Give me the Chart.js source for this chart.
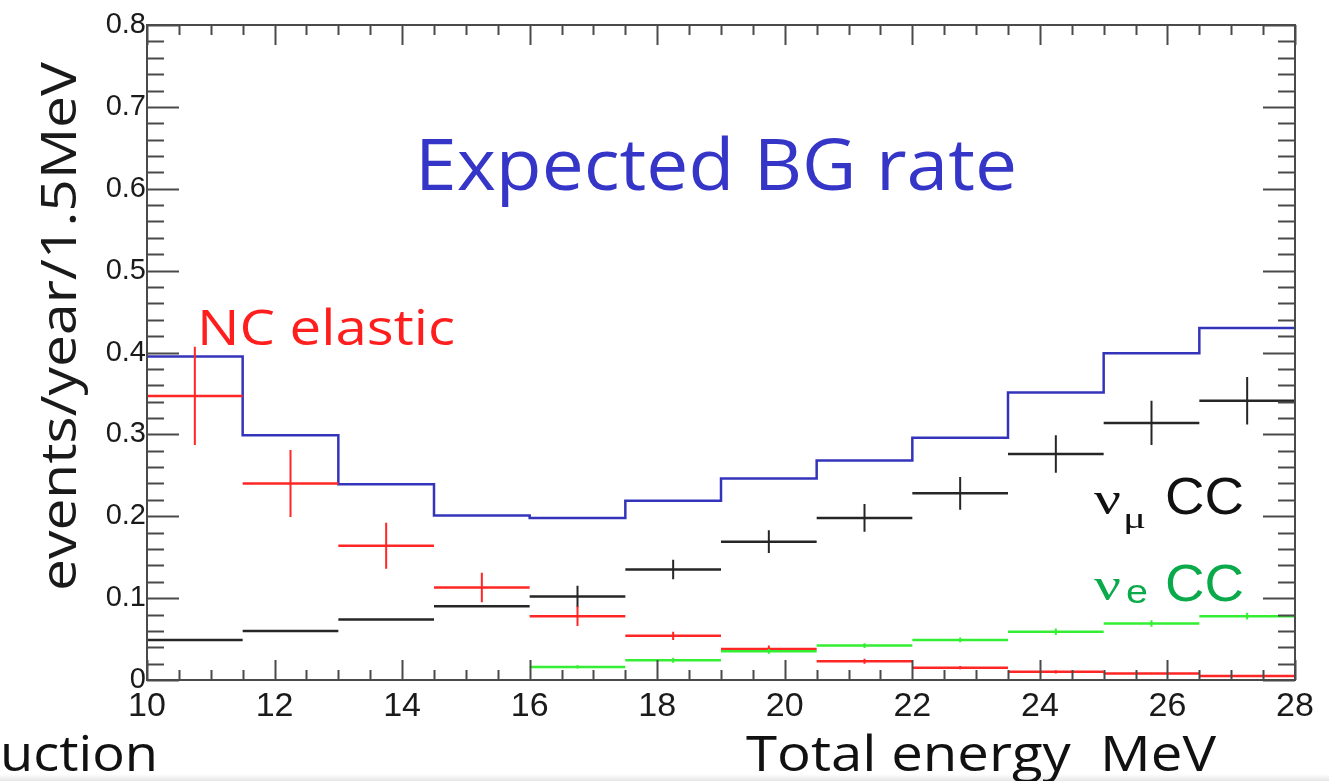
<!DOCTYPE html>
<html>
<head>
<meta charset="utf-8">
<script src="https://cdn.jsdelivr.net/npm/chart.js@4/dist/chart.umd.min.js"></script>
<style>
html,body{margin:0;padding:0;background:#fff;overflow:hidden}
#wrap{width:1329px;height:781px;position:relative}
</style>
</head>
<body>
<div id="wrap"><canvas id="c" width="1329" height="781"></canvas></div>
<script>
// ---- data ----
const binEdges   = [10, 11.5, 13, 14.5, 16, 17.5, 19, 20.5, 22, 23.5, 25, 26.5, 28];
const totalBG    = [0.395, 0.299, 0.239, 0.201, 0.198, 0.219, 0.246, 0.268, 0.296, 0.351, 0.399, 0.430];
const ncElastic  = [0.347, 0.240, 0.164, 0.113, 0.078, 0.054, 0.038, 0.023, 0.015, 0.010, 0.008, 0.005];
const ncElasticErr = [0.060, 0.041, 0.028, 0.018, 0.012, 0.005, 0.004, 0.003, 0.002, 0.002, 0.001, 0.001];
const numuCC     = [0.049, 0.060, 0.074, 0.090, 0.102, 0.135, 0.169, 0.198, 0.228, 0.276, 0.314, 0.341];
const numuCCErr  = [0, 0, 0, 0, 0.013, 0.012, 0.014, 0.017, 0.020, 0.023, 0.027, 0.029];
const nueCC      = [null, null, null, null, 0.016, 0.024, 0.035, 0.042, 0.049, 0.059, 0.069, 0.078];
const nueCCErr   = [0, 0, 0, 0, 0.002, 0.003, 0.003, 0.003, 0.003, 0.004, 0.004, 0.004];
const xTickValues = [10, 12, 14, 16, 18, 20, 22, 24, 26, 28];
const yTickValues = [0, 0.1, 0.2, 0.3, 0.4, 0.5, 0.6, 0.7, 0.8];
const xMinorStep = 0.5, yMinorStep = 0.02;

// ---- build datasets from the arrays ----
function stepData(edges, vals){
  const d = edges.slice(0, vals.length).map((e,i)=>({x:e, y:vals[i]}));
  d.push({x: edges[vals.length], y: vals[vals.length-1]});
  return d;
}
function hBars(edges, vals){
  const d = [];
  vals.forEach((v,i)=>{ if(v===null) return;
    d.push({x:edges[i], y:v}, {x:edges[i+1], y:v}, {x:edges[i+1], y:null}); });
  return d;
}
function vBars(edges, vals, errs){
  const d = [];
  vals.forEach((v,i)=>{ if(v===null || !errs[i]) return;
    const c = (edges[i]+edges[i+1])/2;
    d.push({x:c, y:v-errs[i]}, {x:c, y:v+errs[i]}, {x:c, y:null}); });
  return d;
}
const RED = '#ff2626', BLACK = '#262626', GREEN = '#33ee33', BLUE = '#3434bb';
function lineDs(data, color, w){
  return {data, borderColor: color, borderWidth: w, pointRadius: 0, spanGaps: false, fill: false, tension: 0};
}
const datasets = [
  lineDs(hBars(binEdges, nueCC), GREEN, 2.5),
  lineDs(vBars(binEdges, nueCC, nueCCErr), GREEN, 2),
  lineDs(hBars(binEdges, ncElastic), RED, 2.5),
  lineDs(vBars(binEdges, ncElastic, ncElasticErr), RED, 2),
  lineDs(hBars(binEdges, numuCC), BLACK, 2.5),
  lineDs(vBars(binEdges, numuCC, numuCCErr), BLACK, 2),
  Object.assign(lineDs(stepData(binEdges, totalBG), BLUE, 2.5), {stepped: 'before'})
];

// ---- frame, inward ticks, annotations ----
function fitText(ctx, text, x, y, font, color, width){
  ctx.save();
  ctx.font = font; ctx.fillStyle = color; ctx.textBaseline = 'alphabetic'; ctx.textAlign = 'left';
  const w = ctx.measureText(text).width;
  ctx.translate(x, y);
  if (width) ctx.scale(width / w, 1);
  ctx.fillText(text, 0, 0);
  ctx.restore();
}
const framePlugin = {
  id: 'frame',
  beforeDraw(chart){
    const ctx = chart.ctx;
    ctx.save(); ctx.fillStyle = '#fff'; ctx.fillRect(0,0,chart.width,chart.height);
    const g = ctx.createLinearGradient(0, 774, 0, 781);
    g.addColorStop(0, '#ffffff'); g.addColorStop(1, '#e6e6e6');
    ctx.fillStyle = g; ctx.fillRect(0, 774, chart.width, 7);
    ctx.restore();
  },
  afterDatasetsDraw(chart){
    const ctx = chart.ctx, a = chart.chartArea, xs = chart.scales.x, ys = chart.scales.y;
    ctx.save();
    ctx.strokeStyle = '#4a4a4a'; ctx.lineWidth = 2;
    ctx.strokeRect(a.left, a.top, a.right - a.left, a.bottom - a.top);
    ctx.beginPath();
    for (let k = 0; k <= Math.round(0.8 / yMinorStep); k++){
      const v = k * yMinorStep;
      const major = (k % 5 === 0);
      const py = Math.round(ys.getPixelForValue(v)) + 0.5;
      const len = major ? 32 : 17;
      ctx.moveTo(a.left, py); ctx.lineTo(a.left + len, py);
      ctx.moveTo(a.right, py); ctx.lineTo(a.right - len, py);
    }
    for (let k = 0; k <= Math.round(18 / xMinorStep); k++){
      const v = 10 + k * xMinorStep;
      const major = (k % 4 === 0);
      const px = Math.round(xs.getPixelForValue(v)) + 0.5;
      const len = major ? 20 : 10;
      ctx.moveTo(px, a.bottom); ctx.lineTo(px, a.bottom - len);
      ctx.moveTo(px, a.top); ctx.lineTo(px, a.top + len);
    }
    ctx.stroke();
    ctx.restore();
  },
  afterDraw(chart){
    const ctx = chart.ctx;
    fitText(ctx, 'Expected BG rate', 415, 190, '72px "Open Sans"', '#3535c8', 602);
    fitText(ctx, 'NC elastic', 197, 345, '50px "Open Sans"', '#ff1e1e', 258);
    fitText(ctx, 'Total energy  MeV', 746, 771, '50px "Open Sans"', '#111', 470);
    fitText(ctx, 'uction', 0, 771, '50px "Open Sans"', '#111', 158);
    ctx.save();
    ctx.translate(76, 591); ctx.rotate(-Math.PI/2);
    fitText(ctx, 'events/year/1.5MeV', 0, 0, '50px "Open Sans"', '#1a1a1a', 529);
    ctx.restore();
    fitText(ctx, 'ν', 1094, 514, '46px "Liberation Serif"', '#111', 27);
    fitText(ctx, 'μ', 1123, 528, '30px "Liberation Serif"', '#111', 23);
    fitText(ctx, 'CC', 1165, 514, '52px "Liberation Sans"', '#111', 79);
    fitText(ctx, 'ν', 1094, 600, '46px "Liberation Serif"', '#0aaa4a', 27);
    fitText(ctx, 'e', 1126, 603, '34px "Liberation Sans"', '#0aaa4a', 22);
    fitText(ctx, 'CC', 1165, 601, '52px "Liberation Sans"', '#0aaa4a', 79);
  }
};

new Chart(document.getElementById('c'), {
  type: 'line',
  data: { datasets },
  options: {
    responsive: false, animation: false, events: [],
    layout: { padding: { left: 0, right: 34, top: 25, bottom: 0 } },
    plugins: { legend: { display: false }, tooltip: { enabled: false } },
    scales: {
      x: {
        type: 'linear', min: 10, max: 28,
        afterBuildTicks: s => { s.ticks = xTickValues.map(v => ({value: v})); },
        afterFit: s => { s.height = 101; },
        grid: { display: false, drawTicks: false },
        border: { display: false },
        ticks: { padding: 6, color: '#1a1a1a', font: { family: '"Liberation Sans", Arial', size: 34 },
                 maxRotation: 0, autoSkip: false, callback: v => String(v) }
      },
      y: {
        type: 'linear', min: 0, max: 0.8,
        afterBuildTicks: s => { s.ticks = yTickValues.map(v => ({value: v})); },
        afterFit: s => { s.width = 147; },
        grid: { display: false, drawTicks: false },
        border: { display: false },
        ticks: { padding: 1, color: '#1a1a1a', font: { family: '"Liberation Sans", Arial', size: 29 },
                 autoSkip: false, callback: v => String(Math.round(v * 10) / 10) }
      }
    }
  },
  plugins: [framePlugin]
});
</script>
</body>
</html>
